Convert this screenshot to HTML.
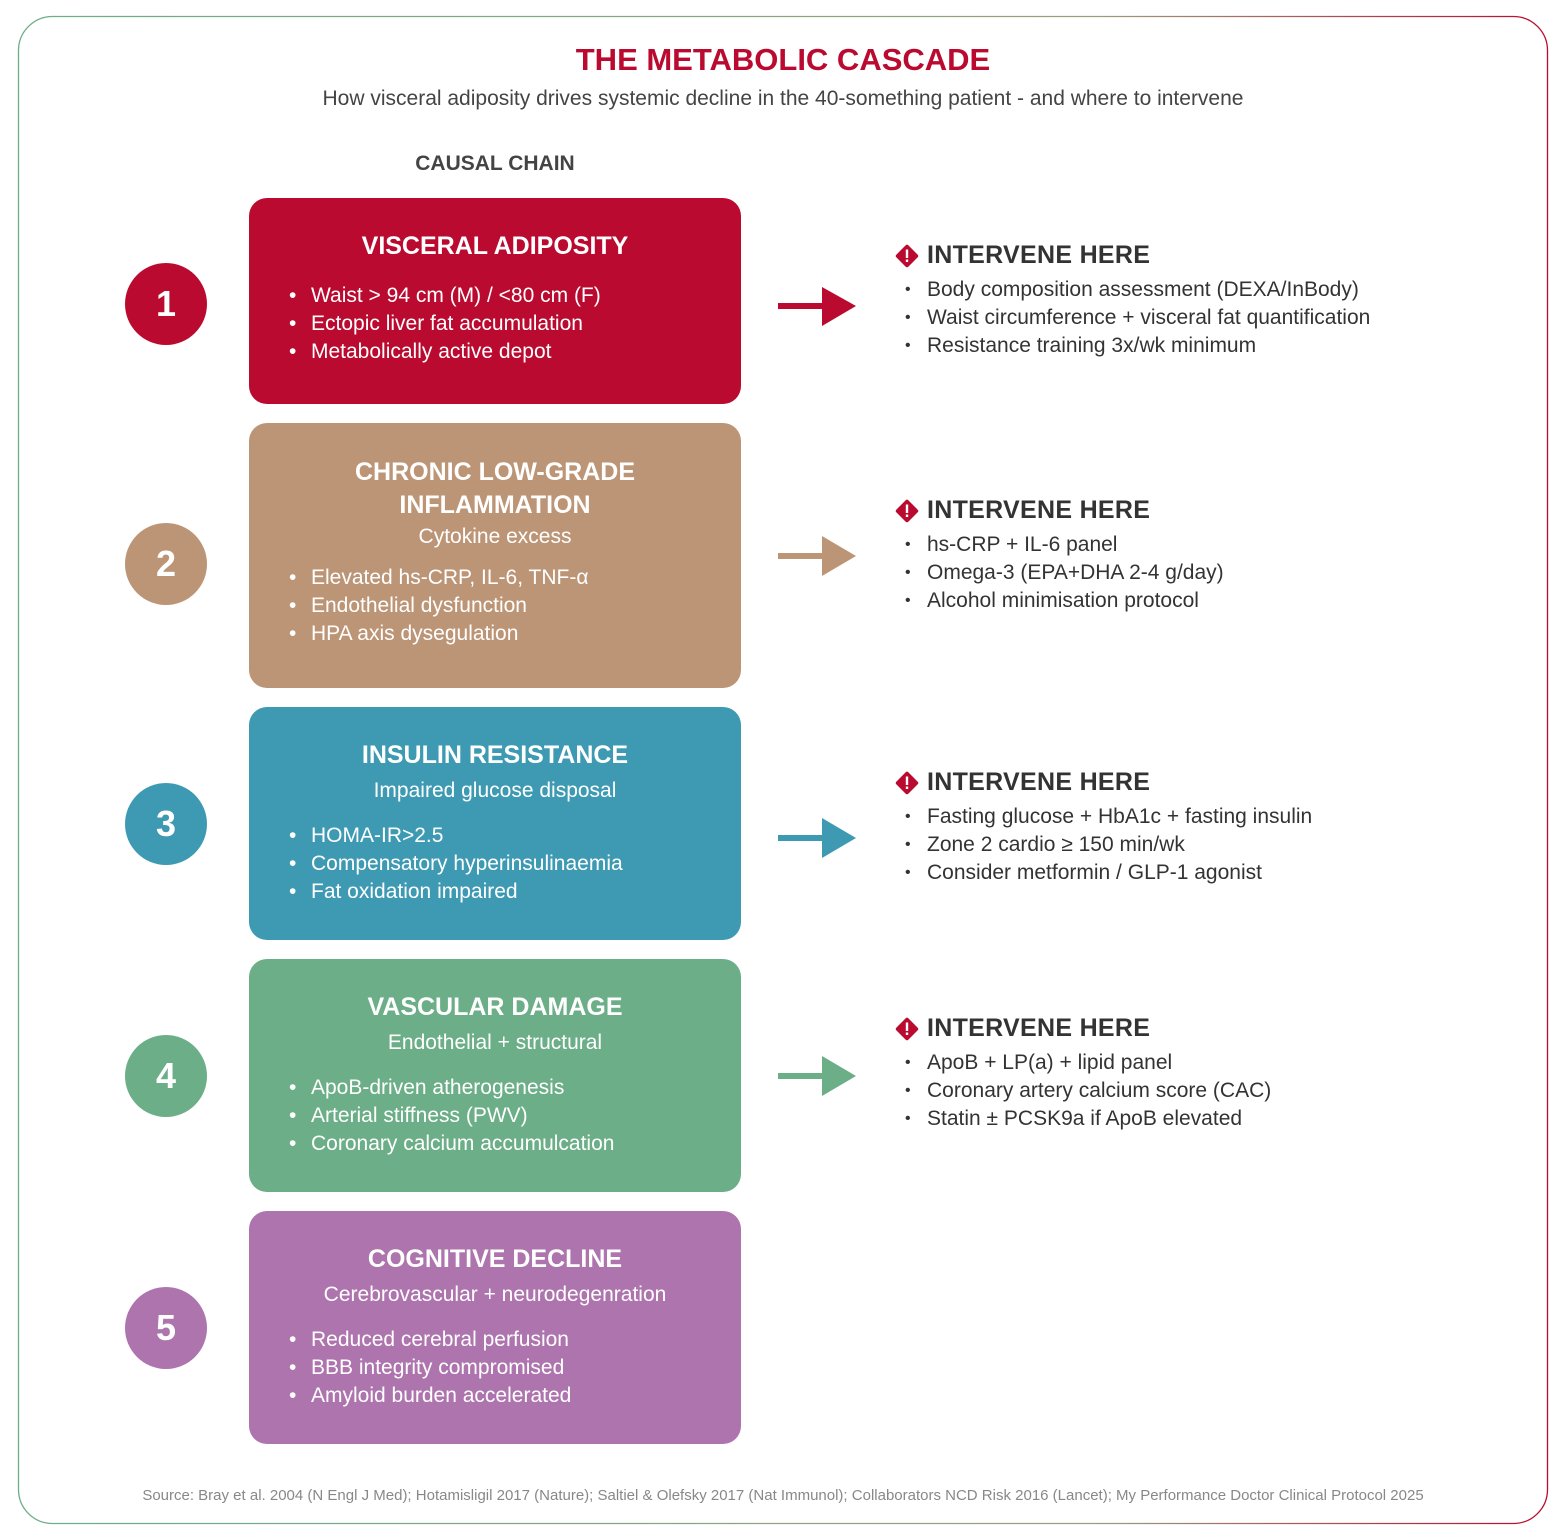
<!DOCTYPE html>
<html><head><meta charset="utf-8"><style>
body{margin:0;width:1566px;height:1540px;background:#fff;font-family:"Liberation Sans",sans-serif;position:relative;overflow:hidden}
.a{position:absolute}
.box{position:absolute;left:249px;width:492px;border-radius:18px;color:#fff;text-align:center}
.box h2{margin:0;font-size:25px;font-weight:bold;line-height:33px}
.box .s{font-size:21px;line-height:30px}
.box ul{list-style:none;margin:0;padding:0;text-align:left;font-size:21px;line-height:28px;position:absolute;left:62px}
.box li::before{content:"•";position:absolute;left:-22px}
.box li{position:relative}
.c{position:absolute;left:125px;width:82px;height:82px;border-radius:50%;color:#fff;font-size:36px;font-weight:bold;text-align:center;line-height:82px}
.iv{position:absolute;left:894px;color:#333}
.iv h3{margin:0;font-size:25px;font-weight:bold;line-height:30px;padding-left:33px;position:relative;letter-spacing:0.3px}
.iv h3 svg{position:absolute;left:0;top:3px}
.iv ul{list-style:none;margin:6px 0 0 0;padding:0 0 0 33px;font-size:21px;line-height:28px}
.iv li{position:relative}
.iv li::before{content:"•";position:absolute;left:-22px;font-size:16px}
</style></head><body>
<svg class="a" style="left:0;top:0" width="1566" height="1540">
<defs><linearGradient id="g" x1="0" y1="0" x2="1" y2="0"><stop offset="0" stop-color="#6BAE87"/><stop offset="0.7" stop-color="#9aa07f"/><stop offset="1" stop-color="#BA0A2F"/></linearGradient></defs>
<rect x="18.5" y="16.5" width="1529" height="1507" rx="34" fill="none" stroke="url(#g)" stroke-width="1.3"/>
<g fill="#BA0A2F"><rect x="778" y="303" width="46" height="6"/><polygon points="822,287 856,306 822,326"/></g>
<g fill="#BC9576"><rect x="778" y="553" width="46" height="6"/><polygon points="822,536 856,556 822,576"/></g>
<g fill="#3E9AB3"><rect x="778" y="835" width="46" height="6"/><polygon points="822,818 856,838 822,858"/></g>
<g fill="#6BAE87"><rect x="778" y="1073" width="46" height="6"/><polygon points="822,1056 856,1076 822,1096"/></g>
</svg>
<div class="a" style="left:0;width:1566px;top:42px;text-align:center;color:#BA0A2F;font-size:31px;font-weight:bold">THE METABOLIC CASCADE</div>
<div class="a" style="left:0;width:1566px;top:87px;text-align:center;color:#444;font-size:21px">How visceral adiposity drives systemic decline in the 40-something patient - and where to intervene</div>
<div class="a" style="left:249px;width:492px;top:152px;text-align:center;color:#444;font-size:21px;font-weight:bold">CAUSAL CHAIN</div>

<div class="c" style="top:263px;background:#BA0A2F">1</div>
<div class="c" style="top:523px;background:#BC9576">2</div>
<div class="c" style="top:783px;background:#3E9AB3">3</div>
<div class="c" style="top:1035px;background:#6BAE87">4</div>
<div class="c" style="top:1287px;background:#AE74AE">5</div>

<div class="box" style="top:198px;height:206px;background:#BA0A2F"><h2 style="margin-top:32px">VISCERAL ADIPOSITY</h2>
<ul style="top:84px"><li>Waist &gt; 94 cm (M) / &lt;80 cm (F)</li><li>Ectopic liver fat accumulation</li><li>Metabolically active depot</li></ul></div>

<div class="box" style="top:423px;height:265px;background:#BC9576"><h2 style="margin-top:33px">CHRONIC LOW-GRADE<br>INFLAMMATION</h2><div class="s">Cytokine excess</div>
<ul style="top:141px"><li>Elevated hs-CRP, IL-6, TNF-α</li><li>Endothelial dysfunction</li><li>HPA axis dysegulation</li></ul></div>

<div class="box" style="top:707px;height:233px;background:#3E9AB3"><h2 style="margin-top:32px">INSULIN RESISTANCE</h2><div class="s" style="margin-top:4px">Impaired glucose disposal</div>
<ul style="top:115px"><li>HOMA-IR&gt;2.5</li><li>Compensatory hyperinsulinaemia</li><li>Fat oxidation impaired</li></ul></div>

<div class="box" style="top:959px;height:233px;background:#6BAE87"><h2 style="margin-top:32px">VASCULAR DAMAGE</h2><div class="s" style="margin-top:4px">Endothelial + structural</div>
<ul style="top:115px"><li>ApoB-driven atherogenesis</li><li>Arterial stiffness (PWV)</li><li>Coronary calcium accumulcation</li></ul></div>

<div class="box" style="top:1211px;height:233px;background:#AE74AE"><h2 style="margin-top:32px">COGNITIVE DECLINE</h2><div class="s" style="margin-top:4px">Cerebrovascular + neurodegenration</div>
<ul style="top:115px"><li>Reduced cerebral perfusion</li><li>BBB integrity compromised</li><li>Amyloid burden accelerated</li></ul></div>

<div class="iv" style="top:240px"><h3><svg width="26" height="26" viewBox="0 0 26 26"><rect x="4.5" y="4.5" width="17" height="17" rx="2" transform="rotate(45 13 13)" fill="#BA0A2F"/><rect x="11.8" y="6.5" width="2.4" height="8.5" fill="#fff"/><rect x="11.8" y="16.5" width="2.4" height="2.5" fill="#fff"/></svg>INTERVENE HERE</h3>
<ul><li>Body composition assessment (DEXA/InBody)</li><li>Waist circumference + visceral fat quantification</li><li>Resistance training 3x/wk minimum</li></ul></div>

<div class="iv" style="top:495px"><h3><svg width="26" height="26" viewBox="0 0 26 26"><rect x="4.5" y="4.5" width="17" height="17" rx="2" transform="rotate(45 13 13)" fill="#BA0A2F"/><rect x="11.8" y="6.5" width="2.4" height="8.5" fill="#fff"/><rect x="11.8" y="16.5" width="2.4" height="2.5" fill="#fff"/></svg>INTERVENE HERE</h3>
<ul><li>hs-CRP + IL-6 panel</li><li>Omega-3 (EPA+DHA 2-4 g/day)</li><li>Alcohol minimisation protocol</li></ul></div>

<div class="iv" style="top:767px"><h3><svg width="26" height="26" viewBox="0 0 26 26"><rect x="4.5" y="4.5" width="17" height="17" rx="2" transform="rotate(45 13 13)" fill="#BA0A2F"/><rect x="11.8" y="6.5" width="2.4" height="8.5" fill="#fff"/><rect x="11.8" y="16.5" width="2.4" height="2.5" fill="#fff"/></svg>INTERVENE HERE</h3>
<ul><li>Fasting glucose + HbA1c + fasting insulin</li><li>Zone 2 cardio ≥ 150 min/wk</li><li>Consider metformin / GLP-1 agonist</li></ul></div>

<div class="iv" style="top:1013px"><h3><svg width="26" height="26" viewBox="0 0 26 26"><rect x="4.5" y="4.5" width="17" height="17" rx="2" transform="rotate(45 13 13)" fill="#BA0A2F"/><rect x="11.8" y="6.5" width="2.4" height="8.5" fill="#fff"/><rect x="11.8" y="16.5" width="2.4" height="2.5" fill="#fff"/></svg>INTERVENE HERE</h3>
<ul><li>ApoB + LP(a) + lipid panel</li><li>Coronary artery calcium score (CAC)</li><li>Statin ± PCSK9a if ApoB elevated</li></ul></div>

<div class="a" style="left:0;width:1566px;top:1487px;text-align:center;color:#888;font-size:15px">Source: Bray et al. 2004 (N Engl J Med); Hotamisligil 2017 (Nature); Saltiel &amp; Olefsky 2017 (Nat Immunol); Collaborators NCD Risk 2016 (Lancet); My Performance Doctor Clinical Protocol 2025</div>
</body></html>
